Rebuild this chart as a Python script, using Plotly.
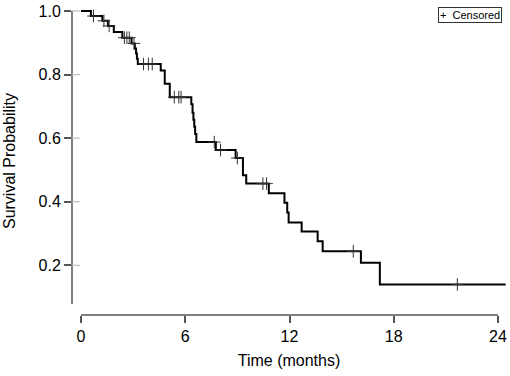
import plotly.graph_objects as go

# Kaplan-Meier step data (time in months, survival probability after the step)
event_times = [0, 0.57, 1.23, 1.55, 1.89, 2.38, 2.91, 3.10, 3.17, 3.22, 3.27, 4.59, 4.82, 5.11,
               6.35, 6.42, 6.47, 6.52, 6.57, 6.64, 7.76, 8.90, 9.32, 9.51, 10.81, 11.71, 11.87,
               11.95, 12.70, 13.62, 13.91, 16.11, 17.20, 24.44]
survival = [1.0, 0.984, 0.969, 0.953, 0.934, 0.916, 0.898, 0.882, 0.866, 0.850, 0.833, 0.8125,
            0.771, 0.729, 0.707, 0.680, 0.658, 0.636, 0.613, 0.5875, 0.5625, 0.5375, 0.483,
            0.457, 0.427, 0.397, 0.366, 0.335, 0.306, 0.276, 0.244, 0.208, 0.140, 0.140]

# Censored observations
censor_times = [0.72, 1.32, 1.62, 2.50, 2.64, 2.78, 3.05, 3.60, 3.88, 4.10, 5.37, 5.63, 5.76,
                7.67, 8.03, 9.00, 10.47, 10.68, 15.67, 21.66]
censor_surv = [0.984, 0.969, 0.953, 0.916, 0.916, 0.916, 0.898, 0.833, 0.833, 0.833, 0.729,
               0.729, 0.729, 0.5875, 0.5625, 0.5375, 0.457, 0.457, 0.244, 0.140]

x_ticks = [0, 6, 12, 18, 24]
y_ticks = [0.2, 0.4, 0.6, 0.8, 1.0]
y_tick_labels = ["0.2", "0.4", "0.6", "0.8", "1.0"]

FONT = "Liberation Sans, Arial, sans-serif"
AXIS_COL = "#555555"

fig = go.Figure()
fig.add_trace(go.Scatter(
    x=event_times, y=survival, mode="lines",
    line=dict(color="black", width=2, shape="hv"),
    showlegend=False, hoverinfo="skip"))
fig.add_trace(go.Scatter(
    x=censor_times, y=censor_surv, mode="markers",
    marker=dict(symbol="cross-thin", size=9, line=dict(color="#333333", width=1)),
    showlegend=False, name="Censored"))

XMIN, XMAX = -0.517, 24.46
YMIN, YMAX = 0.04375, 1.0125

shapes = []
# x axis line spanning tick range only
shapes.append(dict(type="line", xref="x", yref="paper", x0=0, x1=24, y0=0, y1=0,
                   line=dict(color=AXIS_COL, width=1.5)))
# y axis line
shapes.append(dict(type="line", xref="paper", yref="y", x0=0, x1=0, y0=0.078, y1=1.0,
                   line=dict(color=AXIS_COL, width=1.5)))
# light inner parts of y ticks
for v in y_ticks:
    shapes.append(dict(type="line", xref="x", yref="y", x0=XMIN, x1=-0.06, y0=v, y1=v,
                       line=dict(color="#bbbbbb", width=1.2)))

fig.update_layout(
    width=510, height=376,
    margin=dict(l=72, r=3, t=5, b=61),
    paper_bgcolor="white", plot_bgcolor="white",
    font=dict(family=FONT, size=16, color="black"),
    shapes=shapes,
    xaxis=dict(range=[XMIN, XMAX], showgrid=False, zeroline=False, showline=False,
               tickmode="array", tickvals=x_ticks, ticks="outside", ticklen=7,
               tickcolor=AXIS_COL, tickwidth=1.5,
               tickfont=dict(size=16, family=FONT, color="black"),
               title=dict(text="Time (months)", font=dict(size=16, family=FONT), standoff=10)),
    yaxis=dict(range=[YMIN, YMAX], showgrid=False, zeroline=False, showline=False,
               tickmode="array", tickvals=y_ticks, ticktext=y_tick_labels,
               ticks="outside", ticklen=7, tickcolor=AXIS_COL, tickwidth=1.5,
               tickfont=dict(size=16, family=FONT, color="black"),
               title=dict(text="Survival Probability", font=dict(size=16, family=FONT),
                          standoff=18)),
    annotations=[dict(text="+  Censored", xref="paper", yref="paper", x=0.99, y=1.0,
                      xanchor="right", yanchor="top", showarrow=False,
                      font=dict(size=11, family=FONT, color="black"),
                      bordercolor="#333333", borderwidth=1, borderpad=1,
                      bgcolor="white")],
)

fig.write_html("out.html",
               config={"displayModeBar": False},
               post_script="document.body.style.margin='0';document.body.style.padding='0';")
